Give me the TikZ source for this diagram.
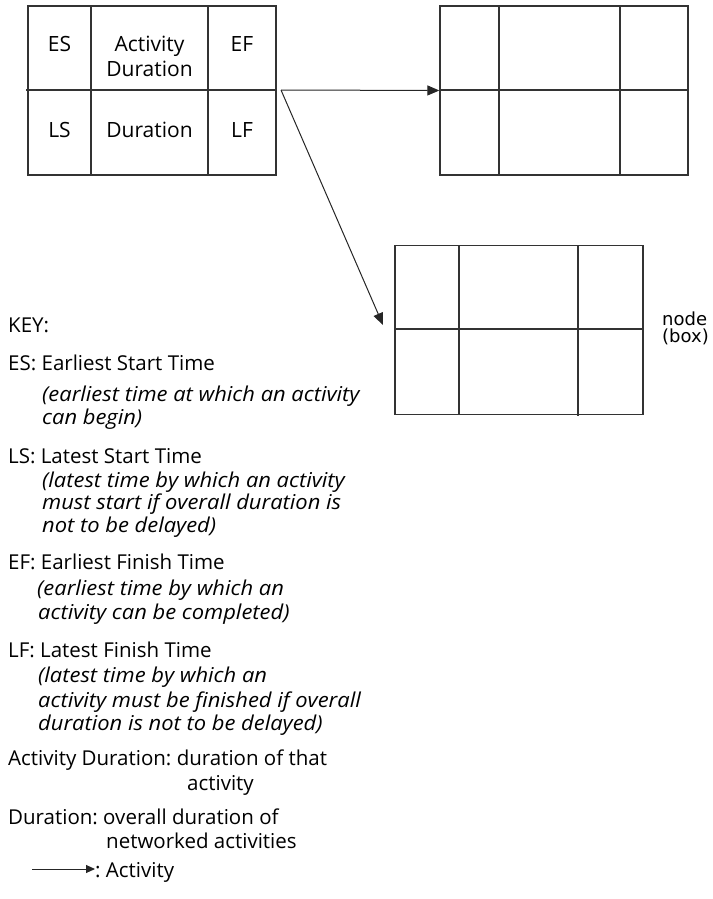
\documentclass[tikz,border=0pt]{standalone}
\usepackage{fontspec}
\setmainfont{Open Sans}[ItalicFeatures={FakeStretch=1.07}]
\newfontfamily\nodefont{DejaVu Sans}
\usetikzlibrary{arrows.meta}
\frenchspacing

\tikzset{
  grid/.style={line width=1.3pt, draw=black!80},
  cellbox/.style={grid, rectangle, minimum width=248pt, minimum height=169pt, inner sep=0pt},
  link/.style={line width=1pt, draw=black!85, -{Triangle[length=12pt,width=10pt]}},
  celltext/.style={anchor=base, inner sep=0pt, font=\fontsize{21}{24}\selectfont},
  keytext/.style={anchor=base west, inner sep=0pt, font=\fontsize{20.5}{24}\selectfont\frenchspacing},
  keynote/.style={keytext, font=\fontsize{20.5}{24}\selectfont\itshape\frenchspacing},
  sidetext/.style={anchor=base west, inner sep=0pt, font=\nodefont\fontsize{18}{21}\selectfont},
}

\begin{document}
\begin{tikzpicture}[x=1pt, y=-1pt]
\useasboundingbox (0,0) rectangle (712,899);

% activity box with labelled cells
\node[cellbox] (b1) at (152,90.5) {};
\draw[grid] (26,90) -- (276,90);
\draw[grid] (91,6) -- (91,175);
\draw[grid] (208,6) -- (208,175);
\node[celltext] (es) at (59.5,52) {ES};
\node[celltext] (ad1) at (149.5,52) {Activity};
\node[celltext] (ad2) at (149.5,77) {Duration};
\node[celltext] (ef) at (242,52) {EF};
\node[celltext] (ls) at (59.5,137) {LS};
\node[celltext] (du) at (149.5,137) {Duration};
\node[celltext] (lf) at (242,137) {LF};

% following activity box
\node[cellbox] (b2) at (564,90.5) {};
\draw[grid] (440,90) -- (688,90);
\draw[grid] (499,6) -- (499,175);
\draw[grid] (620,6) -- (620,175);

% second following activity box
\node[cellbox] (b3) at (519,330) {};
\draw[grid] (395,329) -- (643,329);
\draw[grid] (459,246) -- (459,414);
\draw[grid] (578,246) -- (578,416);
\node[sidetext] (nd1) at (662,325) {node};
\node[sidetext] (nd2) at (662,342) {(box)};

% activity arrows
\coordinate (start) at (281,90);
\coordinate (end3) at (383,325);
\draw[link] (start) -- (b2.west);
\draw[link] (start) -- (end3);

% key
\node[keytext] (k0) at (8,332) {KEY:};
\node[keytext] (k1) at (8,370) {ES: Earliest Start Time};
\node[keynote] (k1a) at (42,401) {(earliest time at which an activity};
\node[keynote] (k1b) at (42,424) {can begin)};
\node[keytext] (k2) at (8,463) {LS: Latest Start Time};
\node[keynote] (k2a) at (42,487) {(latest time by which an activity};
\node[keynote] (k2b) at (42,509) {must start if overall duration is};
\node[keynote] (k2c) at (42,532) {not to be delayed)};
\node[keytext] (k3) at (8,569) {EF: Earliest Finish Time};
\node[keynote] (k3a) at (37,595) {(earliest time by which an};
\node[keynote] (k3b) at (38,619) {activity can be completed)};
\node[keytext] (k4) at (8,657) {LF: Latest Finish Time};
\node[keynote] (k4a) at (38,682) {(latest time by which an};
\node[keynote] (k4b) at (38,707) {activity must be finished if overall};
\node[keynote] (k4c) at (38,730) {duration is not to be delayed)};
\node[keytext] (k5) at (8,765) {Activity Duration: duration of that};
\node[keytext] (k5a) at (187,790) {activity};
\node[keytext] (k6) at (8,824) {Duration: overall duration of};
\node[keytext] (k6a) at (106,848) {networked activities};
\coordinate (la) at (32,869);
\node[keytext] (k7) at (95,877) {: Activity};
\draw[line width=1pt, draw=black!85, -{Triangle[length=9pt,width=8pt]}] (la) -- (k7.west |- la);
\end{tikzpicture}
\end{document}
